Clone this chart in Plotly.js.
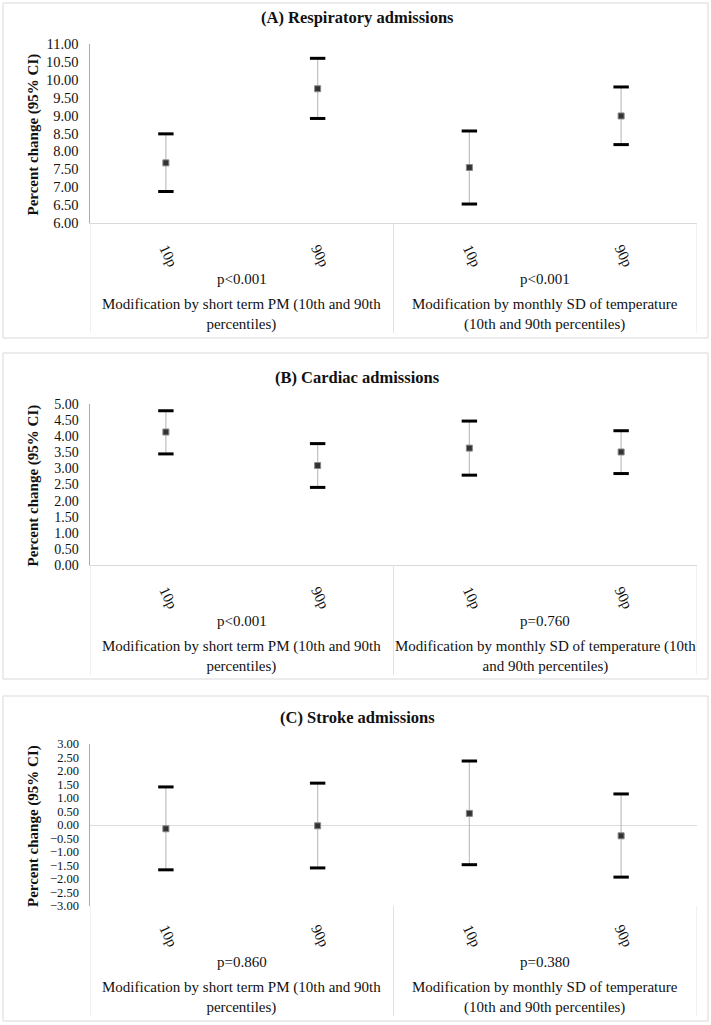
<!DOCTYPE html>
<html>
<head>
<meta charset="utf-8">
<script src="https://cdn.plot.ly/plotly-3.0.1.min.js"></script>
<style>html,body{margin:0;padding:0;background:#fff;}#chart{width:711px;height:1025px;}</style>
</head>
<body>
<div id="chart"></div>
<script>
// ---- data ----
const categories = ["10p", "90p", "10p", "90p"];
const groupLabels = ["Modification by short term PM (10th and 90th<br>percentiles)",
                     "Modification by monthly SD of temperature<br>(10th and 90th percentiles)"];
const groupLabelsB = ["Modification by short term PM (10th and 90th<br>percentiles)",
                      "Modification by monthly SD of temperature (10th<br>and 90th percentiles)"];

const titleA = "(A) Respiratory admissions";
const estA = [7.68, 9.75, 7.55, 8.99];
const lowA = [6.88, 8.92, 6.53, 8.19];
const highA = [8.49, 10.60, 8.57, 9.80];
const pA = ["p<0.001", "p<0.001"];

const titleB = "(B) Cardiac admissions";
const estB = [4.13, 3.09, 3.63, 3.51];
const lowB = [3.45, 2.41, 2.79, 2.84];
const highB = [4.79, 3.77, 4.47, 4.17];
const pB = ["p<0.001", "p=0.760"];

const titleC = "(C) Stroke admissions";
const estC = [-0.14, -0.03, 0.43, -0.40];
const lowC = [-1.66, -1.59, -1.47, -1.93];
const highC = [1.41, 1.55, 2.37, 1.15];
const pC = ["p=0.860", "p=0.380"];

const yTitle = "Percent change (95% CI)";

// ---- layout helpers ----
const W = 711, H = 1025;
const px = v => v / W;
const py = v => 1 - v / H;
const FONT = "Liberation Serif";

const panels = [
  {title: titleA, est: estA, low: lowA, high: highA, p: pA, groups: groupLabels, yr: [6, 11],
   top: 44, bottom: 223, boxTop: 3, boxBottom: 338, zero: false, tf: 14.5},
  {title: titleB, est: estB, low: lowB, high: highB, p: pB, groups: groupLabelsB, yr: [0, 5],
   top: 404, bottom: 565, boxTop: 353, boxBottom: 679, zero: false, tf: 14},
  {title: titleC, est: estC, low: lowC, high: highC, p: pC, groups: groupLabels, yr: [-3, 3],
   top: 744, bottom: 906, boxTop: 696, boxBottom: 1021, zero: true, tf: 12.5}
];

const xs = categories.map((c, i) => i);
const plotL = 90, plotR = 697;

const traces = [];
const layout = {
  width: W, height: H,
  margin: {l: 0, r: 0, t: 0, b: 0},
  paper_bgcolor: "#fff", plot_bgcolor: "#fff",
  showlegend: false,
  font: {family: FONT, color: "#111"},
  shapes: [], annotations: []
};

panels.forEach((P, k) => {
  const sfx = k === 0 ? "" : String(k + 1);
  const xa = "x" + sfx, ya = "y" + sfx;

  traces.push({
    type: "scatter", mode: "markers", x: xs, y: P.est, xaxis: xa, yaxis: ya,
    marker: {symbol: "square", size: 6, color: "#333", line: {color: "#888", width: 1}},
    error_y: {type: "data", symmetric: false,
      array: P.high.map((h, i) => h - P.est[i]),
      arrayminus: P.low.map((l, i) => P.est[i] - l),
      color: "#c4c4c4", thickness: 1.3, width: 0}
  });
  [P.high, P.low].forEach(arr => traces.push({
    type: "scatter", mode: "markers", x: xs, y: arr, xaxis: xa, yaxis: ya,
    marker: {symbol: "line-ew", size: 11, line: {color: "#000", width: 3}}
  }));

  layout["xaxis" + sfx] = {
    domain: [px(plotL), px(plotR)], anchor: ya, range: [-0.5, 3.5],
    tickmode: "array", tickvals: xs, ticktext: categories, tickangle: 65,
    tickfont: {family: FONT, size: 15, color: "#111"},
    ticklabelstandoff: 10,
    showgrid: false, zeroline: false, ticks: "",
    showline: !P.zero, linecolor: "#d9d9d9", linewidth: 1, fixedrange: true, automargin: false
  };
  layout["yaxis" + sfx] = {
    domain: [py(P.bottom), py(P.top)], anchor: xa, range: P.yr, dtick: 0.5, tick0: 0,
    tickformat: ".2f", tickfont: {family: FONT, size: P.tf, color: "#111"},
    showgrid: false, ticks: "", ticklabelstandoff: 7,
    showline: true, linecolor: "#66c6d6", linewidth: 1.5,
    zeroline: P.zero, zerolinecolor: "#dcdcdc", zerolinewidth: 1,
    fixedrange: true, automargin: false
  };

  layout.shapes.push({type: "rect", xref: "paper", yref: "paper", layer: "below",
    x0: px(3), x1: px(708), y0: py(P.boxBottom), y1: py(P.boxTop),
    line: {color: "#d9d9d9", width: 1}});
  [-0.5, 1.5, 3.5].forEach(xv => layout.shapes.push({type: "line", xref: xa, yref: "paper",
    x0: xv, x1: xv, y0: py(P.bottom), y1: py(P.bottom + 110),
    line: {color: "#e2e2e2", width: 1}}));

  layout.annotations.push({xref: "paper", yref: "paper", x: px(357), y: py(P.top - 27),
    text: "<b>" + P.title + "</b>", showarrow: false, xanchor: "center", yanchor: "middle",
    font: {family: FONT, size: 16.5, color: "#111"}});
  layout.annotations.push({xref: "paper", yref: "paper", x: px(33), y: py((P.top + P.bottom) / 2 + 1),
    text: "<b>" + yTitle + "</b>", textangle: -90, showarrow: false,
    xanchor: "center", yanchor: "middle", font: {family: FONT, size: 15, color: "#111"}});
  [0.5, 2.5].forEach((xv, g) => {
    layout.annotations.push({xref: xa, yref: "paper", x: xv, y: py(P.bottom + 56),
      text: P.p[g], showarrow: false, xanchor: "center", yanchor: "middle",
      font: {family: FONT, size: 15, color: "#111"}});
    layout.annotations.push({xref: xa, yref: "paper", x: xv, y: py(P.bottom + 91.5),
      text: P.groups[g], showarrow: false, xanchor: "center", yanchor: "middle",
      font: {family: FONT, size: 15, color: "#111"}});
  });
});

Plotly.newPlot("chart", traces, layout, {staticPlot: true, displayModeBar: false});
</script>
</body>
</html>
